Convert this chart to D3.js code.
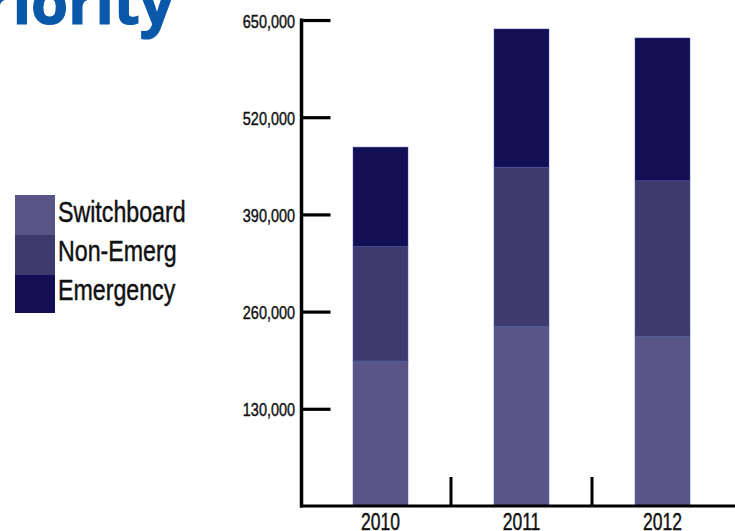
<!DOCTYPE html>
<html>
<head>
<meta charset="utf-8">
<script src="https://cdn.jsdelivr.net/npm/d3@7"></script>
<style>
  html, body { margin: 0; padding: 0; background: #fff; overflow: hidden; }
  svg { display: block; }
</style>
</head>
<body>
<svg id="chart" width="735" height="531"></svg>
<script>
// ---- data ----
const years = ["2010", "2011", "2012"];
const seriesNames = ["Switchboard", "Non-Emerg", "Emergency"];
const switchboard = [194000, 240000, 227000];
const nonEmerg = [153000, 213000, 208000];
const emergency = [133000, 185000, 191000];
const yTicks = [130000, 260000, 390000, 520000, 650000];
const titleText = "Priority";

const colors = ["#5a5587", "#3f3a6e", "#130f55"];

const svg = d3.select("#chart");
const fontSans = "'Liberation Sans', Arial, sans-serif";

// helper: horizontally condensed text anchored at (x, y)
function condText(g, x, yv, txt, size, sx, anchor) {
  return g.append("text")
    .attr("transform", `translate(${x},${yv}) scale(${sx},1)`)
    .attr("text-anchor", anchor || "start")
    .attr("font-family", fontSans)
    .attr("font-size", size)
    .attr("fill", "#111")
    .attr("stroke", "#111")
    .attr("stroke-width", 0.45)
    .text(txt);
}

// scales
const y = d3.scaleLinear().domain([0, 650000]).range([506, 20]);
const x = d3.scaleBand().domain(years).range([310, 733]).padding(0);
const barW = 55;

// title (clipped at top-left as in reference)
svg.append("text")
  .attr("x", 174).attr("y", 24)
  .attr("text-anchor", "end")
  .attr("font-family", "'Open Sans', sans-serif")
  .attr("font-weight", 700)
  .attr("font-size", 60)
  .attr("fill", "#0a58aa")
  .attr("stroke", "#0a58aa")
  .attr("stroke-width", 1.2)
  .text(titleText);

// stacked data
const table = years.map((yr, i) => ({
  year: yr,
  "Switchboard": switchboard[i],
  "Non-Emerg": nonEmerg[i],
  "Emergency": emergency[i]
}));
const stacked = d3.stack().keys(seriesNames)(table);

const gBars = svg.append("g");
stacked.forEach((layer, li) => {
  gBars.selectAll(null)
    .data(layer)
    .enter().append("rect")
    .attr("x", d => x(d.data.year) + x.bandwidth() / 2 - barW / 2)
    .attr("width", barW)
    .attr("y", d => y(d[1]))
    .attr("height", d => y(d[0]) - y(d[1]))
    .attr("fill", colors[li])
    .attr("stroke", "#4a56a6")
    .attr("stroke-opacity", 0.45)
    .attr("stroke-width", 1);
});

// y axis
const yAxis = d3.axisRight(y)
  .tickValues(yTicks)
  .tickSize(29)
  .tickFormat("");
const gy = svg.append("g").attr("transform", "translate(301.5,0)").call(yAxis);
gy.select(".domain").remove();
gy.selectAll(".tick line").attr("stroke", "#000").attr("stroke-width", 3.2);
svg.append("line")
  .attr("x1", 301.5).attr("x2", 301.5)
  .attr("y1", y(650000) - 1.5).attr("y2", y(0) + 1.5)
  .attr("stroke", "#000").attr("stroke-width", 3.5);
// y tick labels
const gyl = svg.append("g");
yTicks.forEach(t => condText(gyl, 295, y(t) + 7.5, d3.format(",")(t), 19, 0.76, "end"));

// x axis
svg.append("line")
  .attr("x1", 300).attr("x2", 735)
  .attr("y1", y(0)).attr("y2", y(0))
  .attr("stroke", "#000").attr("stroke-width", 3.2);
// category separator ticks (between bands)
const seps = years.slice(1).map(yr => x(yr));
svg.append("g").selectAll("line")
  .data(seps).enter().append("line")
  .attr("x1", d => d).attr("x2", d => d)
  .attr("y1", y(0)).attr("y2", y(0) - 29)
  .attr("stroke", "#000").attr("stroke-width", 3);
const gxl = svg.append("g");
years.forEach(yr => condText(gxl, x(yr) + x.bandwidth() / 2, 530, yr, 24, 0.73, "middle"));

// legend
const legendTop = [195, 235, 275];
const legendH = [40, 40, 38];
const legendBase = [222, 261, 300];
const lg = svg.append("g");
seriesNames.forEach((name, i) => {
  lg.append("rect")
    .attr("x", 15).attr("y", legendTop[i])
    .attr("width", 40).attr("height", legendH[i])
    .attr("fill", colors[i]);
  condText(lg, 58, legendBase[i], name, 29, 0.8, "start");
});
</script>
</body>
</html>
